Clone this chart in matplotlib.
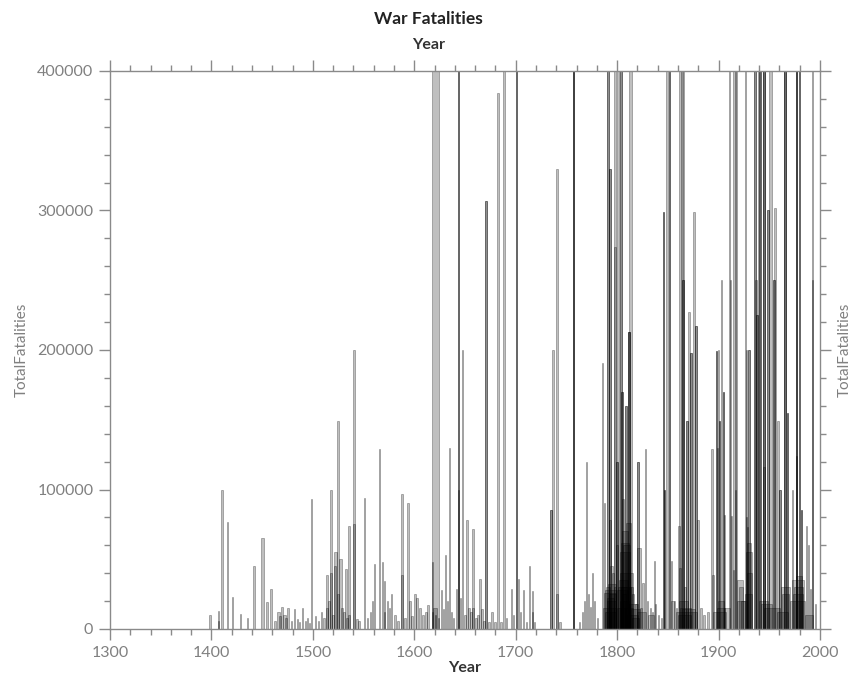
import matplotlib
matplotlib.use("Agg")
import matplotlib.pyplot as plt
from matplotlib.ticker import MultipleLocator

# (start year, duration in years, total fatalities)
wars_1400s = [
    (1398, 1, 10000), (1406, 1, 13000), (1406, 1, 6000), (1409, 2, 100000),
    (1415, 1, 77000), (1420, 1, 23000), (1428, 1, 11000), (1435, 1, 8000),
    (1441, 1, 45000), (1449, 2, 65000), (1454, 1, 19000), (1458, 1, 29000),
    (1462, 1, 6000), (1465, 2, 12000), (1467, 1, 9000), (1469, 1, 16000),
    (1471, 2, 10000), (1473, 1, 8000), (1475, 1, 15000), (1478, 1, 6000),
    (1481, 1, 14000), (1484, 1, 7000), (1486, 1, 5000), (1489, 1, 15000),
    (1492, 1, 6000), (1494, 1, 8000), (1496, 1, 4000),
]
wars_1500s = [
    (1498, 1, 93000), (1502, 1, 9000), (1505, 1, 6000), (1508, 1, 12000),
    (1510, 1, 8000), (1513, 1, 38500), (1513, 1, 15000), (1515, 1, 20000),
    (1517, 1, 100000), (1517, 1, 40000), (1519, 1, 10000), (1521, 2, 55000),
    (1521, 1, 45000), (1524, 1, 149000), (1524, 1, 25000), (1526, 2, 50000),
    (1528, 1, 15000), (1530, 1, 12000), (1532, 1, 43000), (1533, 1, 8000),
    (1535, 1, 74000), (1535, 1, 10000), (1540, 1, 200000), (1540, 1, 75000),
    (1543, 1, 7000), (1545, 1, 6000), (1550, 1, 94000), (1553, 1, 8000),
    (1556, 1, 12000), (1558, 1, 20000), (1560, 1, 46500), (1565, 1, 129000),
    (1568, 1, 48000), (1570, 1, 34500), (1570, 1, 12000), (1573, 1, 20000),
    (1575, 1, 15000), (1577, 1, 25000), (1580, 1, 10000), (1583, 1, 6000),
    (1587, 1, 97000), (1587, 1, 38500), (1590, 1, 8000), (1593, 1, 90000),
    (1595, 1, 20000), (1597, 1, 9000),
]
wars_1600s = [
    (1600, 1, 25000), (1602, 1, 22000), (1605, 1, 15000), (1608, 1, 10000),
    (1611, 1, 12000), (1613, 1, 17000), (1617, 7, 1000000), (1617, 1, 48000),
    (1617, 1, 12000), (1618, 4, 15000), (1620, 1, 10000), (1623, 1, 8000),
    (1626, 1, 28000), (1628, 1, 14000), (1630, 1, 53000), (1632, 1, 20000),
    (1634, 1, 130000), (1636, 1, 12000), (1638, 1, 8000), (1641, 1, 29000),
    (1643, 1, 1000000), (1643, 1, 700000), (1643, 1, 100000), (1645, 1, 22000),
    (1647, 1, 200000), (1649, 1, 10000), (1651, 1, 78000), (1653, 1, 15000),
    (1655, 1, 12000), (1657, 1, 72000), (1657, 1, 15000), (1660, 1, 8000),
    (1662, 1, 10000), (1664, 1, 36000), (1666, 1, 14000), (1668, 1, 6000),
    (1670, 1, 307000), (1670, 1, 307000), (1673, 1, 5000), (1676, 1, 12000),
    (1679, 1, 5000), (1682, 1, 384000), (1685, 1, 5000), (1687, 2, 500000),
    (1690, 1, 8000), (1695, 1, 29000), (1697, 1, 10000),
]
wars_1700s = [
    (1700, 1, 1000000), (1700, 1, 700000), (1702, 1, 36000), (1704, 1, 12000),
    (1707, 1, 28000), (1710, 1, 5000), (1713, 1, 45000), (1716, 1, 27000),
    (1716, 1, 12000), (1718, 1, 5000), (1734, 1, 85000), (1734, 1, 85000),
    (1736, 1, 200000), (1740, 1, 330000), (1740, 1, 25000), (1743, 1, 5000),
    (1756, 1, 1000000), (1756, 1, 900000), (1756, 1, 800000), (1762, 1, 5000),
    (1765, 1, 12000), (1767, 1, 20000), (1769, 1, 120000), (1771, 1, 25000),
    (1773, 1, 16000), (1775, 1, 40000), (1777, 1, 20000), (1780, 1, 8000),
    (1785, 1, 191000), (1787, 1, 90000), (1786, 12, 15000), (1788, 10, 12000),
    (1789, 3, 30000), (1790, 1, 1000000), (1790, 1, 700000), (1790, 8, 20000),
    (1788, 10, 28000), (1790, 6, 22000), (1787, 11, 26000), (1791, 7, 32000),
    (1792, 1, 330000), (1792, 1, 330000), (1792, 1, 78000), (1792, 6, 25000),
    (1793, 2, 45000), (1795, 1, 40000), (1797, 1, 274000), (1797, 1, 30000),
    (1797, 1, 1000000), (1799, 1, 120000), (1799, 1, 60000), (1799, 1, 120000),
]
wars_1800s = [
    (1800, 15, 15000), (1800, 1, 600000), (1803, 1, 900000), (1803, 1, 900000),
    (1803, 8, 20000), (1803, 12, 40000), (1800, 10, 28000), (1802, 8, 35000),
    (1801, 12, 30000), (1803, 9, 55000), (1804, 7, 62000), (1805, 5, 70000),
    (1804, 1, 170000), (1804, 1, 170000),
    (1804, 5, 30000), (1805, 1, 93000), (1805, 3, 25000), (1806, 6, 60000),
    (1808, 1, 160000), (1808, 1, 160000), (1809, 4, 76000), (1810, 10, 10000),
    (1811, 1, 213000), (1811, 1, 213000), (1811, 1, 213000), (1812, 2, 600000),
    (1812, 3, 30000), (1815, 6, 8000), (1815, 1, 25000), (1818, 1, 18000),
    (1812, 8, 18000), (1814, 8, 14000),
    (1820, 1, 120000), (1820, 1, 120000), (1820, 3, 58000), (1820, 8, 12000),
    (1823, 1, 15000), (1825, 1, 33000), (1827, 1, 129000), (1829, 1, 20000),
    (1830, 6, 10000), (1832, 1, 15000), (1834, 1, 12000), (1836, 1, 49000),
    (1837, 1, 18000), (1840, 1, 10000), (1843, 1, 8000), (1845, 1, 299000),
    (1845, 1, 299000), (1846, 1, 100000), (1846, 1, 100000), (1848, 2, 600000),
    (1851, 1, 700000), (1851, 1, 700000), (1853, 1, 49000), (1853, 3, 20000),
    (1856, 1, 20000), (1858, 1, 15000), (1860, 1, 74000), (1861, 1, 44000),
    (1861, 4, 900000), (1863, 1, 900000), (1864, 1, 250000),
    (1864, 1, 250000), (1858, 20, 12000), (1862, 10, 15000), (1860, 12, 10000),
    (1861, 8, 20000), (1864, 12, 14000),
    (1866, 1, 30000), (1868, 1, 149000), (1868, 1, 149000), (1870, 1, 227000),
    (1872, 1, 198000), (1872, 1, 198000), (1875, 1, 299000), (1877, 1, 217000),
    (1877, 1, 217000), (1879, 1, 78000), (1882, 1, 15000), (1885, 1, 10000),
    (1889, 1, 12000), (1893, 1, 129000), (1894, 1, 38500), (1897, 1, 199000),
    (1897, 1, 199000), (1898, 1, 130000),
]
wars_1900s = [
    (1899, 1, 200000), (1900, 1, 149000), (1900, 1, 149000), (1895, 12, 12000),
    (1898, 8, 15000), (1899, 6, 20000), (1902, 1, 250000), (1904, 1, 170000),
    (1904, 1, 170000), (1905, 1, 82000), (1905, 6, 15000), (1910, 1, 700000),
    (1911, 1, 250000), (1912, 1, 81000), (1914, 4, 900000), (1916, 1, 900000),
    (1914, 1, 42500), (1916, 1, 100000), (1918, 8, 20000), (1920, 4, 30000),
    (1922, 6, 20000), (1918, 6, 35000),
    (1926, 1, 700000), (1927, 1, 200000), (1927, 1, 80000), (1928, 1, 73000),
    (1928, 4, 40000), (1926, 6, 25000), (1927, 5, 55000), (1928, 3, 62000),
    (1929, 1, 200000), (1929, 1, 200000),
    (1935, 1, 600000), (1935, 1, 600000), (1936, 1, 250000), (1937, 1, 225000),
    (1937, 1, 225000), (1939, 1, 700000), (1940, 1, 900000), (1940, 1, 900000),
    (1944, 1, 900000), (1944, 1, 900000), (1944, 1, 900000), (1944, 1, 116000),
    (1945, 15, 15000), (1940, 8, 20000), (1942, 10, 18000), (1948, 1, 300000),
    (1948, 1, 300000), (1950, 2, 700000), (1954, 1, 250000), (1954, 1, 250000),
    (1955, 1, 302000), (1958, 1, 149000), (1960, 1, 100000), (1960, 1, 100000),
    (1963, 6, 25000), (1958, 10, 12000), (1962, 8, 30000),
    (1965, 1, 900000), (1965, 1, 900000), (1965, 1, 900000),
    (1967, 1, 155000), (1967, 1, 155000), (1970, 15, 20000), (1972, 1, 100000),
    (1974, 9, 30000), (1973, 10, 25000), (1972, 12, 35000), (1976, 6, 38000),
    (1976, 1, 900000), (1976, 1, 900000),
    (1976, 1, 900000), (1976, 1, 124000), (1979, 1, 700000), (1979, 1, 700000),
    (1981, 1, 85000), (1981, 1, 85000), (1985, 8, 10000), (1986, 1, 74000),
    (1988, 1, 60000), (1990, 1, 29000), (1992, 1, 700000), (1992, 1, 250000),
    (1995, 1, 18000),
]

x_ticks = [1300, 1400, 1500, 1600, 1700, 1800, 1900, 2000]
y_ticks = [0, 100000, 200000, 300000, 400000]

all_wars = wars_1400s + wars_1500s + wars_1600s + wars_1700s + wars_1800s + wars_1900s
starts = [w[0] for w in all_wars]
durations = [w[1] for w in all_wars]
deaths = [w[2] for w in all_wars]

plt.rcParams['font.family'] = ['Lato', 'DejaVu Sans']
GRAY = '#8a8a8a'

fig = plt.figure(figsize=(8.57, 6.84), dpi=100)
ax = fig.add_axes([110 / 857, 55 / 684, 710 / 857, 558 / 684])

bar_w = [d + 0.5 for d in durations]
ax.bar(starts, deaths, width=bar_w, align='edge',
       color=(0, 0, 0, 0.25), edgecolor=(0, 0, 0, 0.38), linewidth=0.5)

ax.set_xlim(1300, 2000)
ax.set_ylim(0, 400000)
ax.set_xticks(x_ticks)
ax.set_yticks(y_ticks)
ax.xaxis.set_minor_locator(MultipleLocator(20))
ax.yaxis.set_minor_locator(MultipleLocator(20000))
ax.set_yticklabels([str(v) for v in y_ticks])
ax.tick_params(which='both', direction='out', color=GRAY, labelcolor='#808080',
               labelsize=11.5, top=True, right=True, labeltop=False, labelright=False)
ax.tick_params(which='major', length=8, width=1, pad=4)
ax.tick_params(which='minor', length=4, width=1)
for s in ax.spines.values():
    s.set_color(GRAY)
    s.set_linewidth(1)

ax.set_xlabel('Year', fontsize=11.5, fontweight='bold', color='#333333', labelpad=1)
fig.text(0.5, 1 - 19 / 684, 'War Fatalities', ha='center', va='center',
         fontsize=12.5, fontweight='bold', color='#222222')
fig.text(0.5, 1 - 45 / 684, 'Year', ha='center', va='center',
         fontsize=11.5, fontweight='bold', color='#333333')
fig.text(22 / 857, 1 - 350 / 684, 'TotalFatalities', rotation=90, ha='center',
         va='center', fontsize=11, color='#808080')
fig.text(845 / 857, 1 - 350 / 684, 'TotalFatalities', rotation=90, ha='center',
         va='center', fontsize=11, color='#808080')

fig.savefig('out.png', dpi=100)
